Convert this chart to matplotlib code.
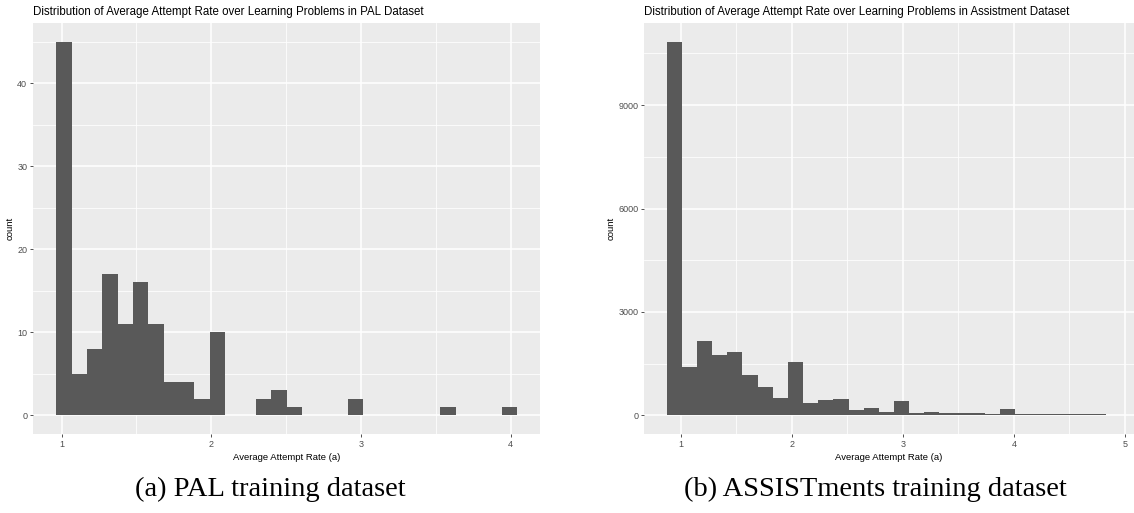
import matplotlib
matplotlib.use("Agg")
import matplotlib.pyplot as plt
import numpy as np
from matplotlib.ticker import MultipleLocator

plt.rcParams['font.family'] = ['Liberation Sans', 'DejaVu Sans']

# Histogram counts per bin (30 bins each)
pal_counts = [45, 5, 8, 17, 11, 16, 11, 4, 4, 2, 10, 0, 0, 2, 3, 1, 0, 0, 0, 2,
              0, 0, 0, 0, 0, 1, 0, 0, 0, 1]
pal_bin_start = 0.964
pal_bin_width = 0.1026

assist_counts = [10840, 1394, 2168, 1761, 1839, 1171, 813, 503, 1558, 368, 445, 465,
                 155, 203, 106, 416, 68, 97, 77, 58, 55, 40, 184, 32, 30, 30, 28,
                 28, 26, 0]
assist_bin_start = 0.875
assist_bin_width = 0.1364

titles = ["Distribution of Average Attempt Rate over Learning Problems in PAL Dataset",
          "Distribution of Average Attempt Rate over Learning Problems in Assistment Dataset"]
captions = ["(a) PAL training dataset", "(b) ASSISTments training dataset"]
pal_yticks = [0, 10, 20, 30, 40]
assist_yticks = [0, 3000, 6000, 9000]

W, H = 1134, 513
fig = plt.figure(figsize=(W / 100, H / 100), dpi=100)
fig.patch.set_facecolor("white")

ax1 = fig.add_axes([33 / W, (H - 434) / H, 507 / W, 411 / H])
ax2 = fig.add_axes([644 / W, (H - 434) / H, 490 / W, 411 / H])


def gg_hist(ax, counts, start, width, xlim, ymax, yticks, xticks, yminor):
    edges = start + width * np.arange(len(counts) + 1)
    ax.stairs(counts, edges, fill=True, color="#595959", linewidth=0, zorder=3)
    ax.set_facecolor("#EBEBEB")
    for s in ax.spines.values():
        s.set_visible(False)
    ax.set_xlim(*xlim)
    ax.set_ylim(-0.05 * ymax, 1.05 * ymax)
    ax.set_xticks(xticks)
    ax.set_yticks(yticks)
    ax.xaxis.set_minor_locator(MultipleLocator(0.5))
    ax.yaxis.set_minor_locator(MultipleLocator(yminor))
    ax.grid(which="major", color="white", linewidth=1.1, zorder=0)
    ax.grid(which="minor", color="white", linewidth=0.55, zorder=0)
    ax.set_axisbelow(True)
    ax.tick_params(which="major", length=2.2, width=0.6, color="#333333",
                   labelcolor="#4D4D4D", labelsize=6.5, pad=2)
    ax.tick_params(which="minor", length=0)
    ax.set_xlabel("Average Attempt Rate (a)", fontsize=6.8, labelpad=3)
    ax.set_ylabel("count", fontsize=6.8, labelpad=2)


gg_hist(ax1, pal_counts, pal_bin_start, pal_bin_width, (0.809, 4.196), 45,
        pal_yticks, [1, 2, 3, 4], 5)
gg_hist(ax2, assist_counts, assist_bin_start, assist_bin_width, (0.671, 5.081), 10840,
        assist_yticks, [1, 2, 3, 4, 5], 1500)

fig.text(33 / W, 1 - 12 / H, titles[0], fontsize=8.3, ha="left", va="center")
fig.text(644 / W, 1 - 12 / H, titles[1], fontsize=8.3, ha="left", va="center")

fig.text(270 / W, 1 - 489 / H, captions[0], family="Liberation Serif",
         fontsize=20.5, ha="center", va="center")
fig.text(875 / W, 1 - 489 / H, captions[1], family="Liberation Serif",
         fontsize=20.5, ha="center", va="center")

fig.savefig("out.png", dpi=100)
